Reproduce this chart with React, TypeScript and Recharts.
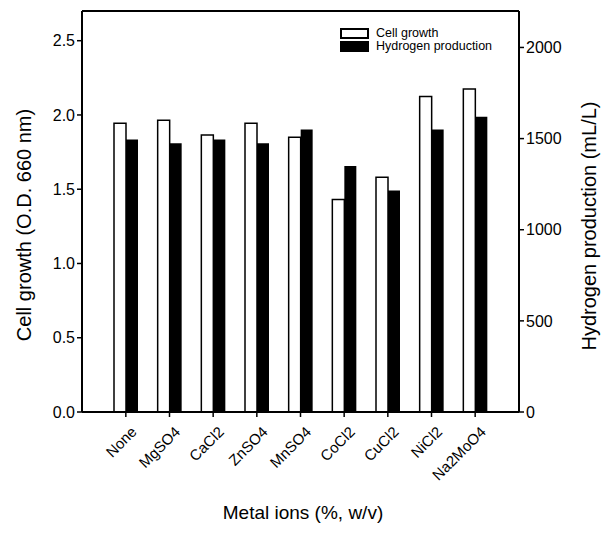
import {
  BarChart,
  Bar,
  XAxis,
  YAxis,
  ReferenceLine,
  Label,
} from 'recharts';

const metalIons = [
  'None',
  'MgSO4',
  'CaCl2',
  'ZnSO4',
  'MnSO4',
  'CoCl2',
  'CuCl2',
  'NiCl2',
  'Na2MoO4',
];
const cellGrowth = [1.945, 1.965, 1.865, 1.945, 1.85, 1.43, 1.58, 2.125, 2.175];
const hydrogenProduction = [1495, 1475, 1495, 1475, 1550, 1350, 1215, 1550, 1620];
const leftTicks = [0, 0.5, 1.0, 1.5, 2.0, 2.5];
const rightTicks = [0, 500, 1000, 1500, 2000];

const data = metalIons.map((name, i) => ({
  name,
  cell: cellGrowth[i],
  hydrogen: hydrogenProduction[i],
}));

const FONT = '"Liberation Sans", Arial, sans-serif';

const RotatedTick = ({ x, y, payload }: any) => (
  <g transform={`translate(${x + 4},${y + 6})`}>
    <text
      x={0}
      y={0}
      dy={11}
      textAnchor="end"
      transform="rotate(-45)"
      fill="#000"
      fontSize={15}
      fontFamily={FONT}
    >
      {payload.value}
    </text>
  </g>
);

const LegendBox = () => (
  <div
    style={{
      position: 'absolute',
      top: 19,
      left: 332,
      fontFamily: FONT,
      fontSize: 12.5,
      color: '#000',
      lineHeight: '13px',
    }}
  >
    <div style={{ display: 'flex', alignItems: 'center' }}>
      <span
        style={{
          display: 'inline-block',
          width: 25,
          height: 7,
          border: '2px solid #000',
          background: '#fff',
          marginRight: 7,
        }}
      />
      Cell growth
    </div>
    <div style={{ display: 'flex', alignItems: 'center' }}>
      <span
        style={{
          display: 'inline-block',
          width: 29,
          height: 11,
          background: '#000',
          marginRight: 7,
        }}
      />
      Hydrogen production
    </div>
  </div>
);

export default function App() {
  return (
    <div style={{ position: 'relative', width: 594, height: 522 }}>
      <BarChart
        width={594}
        height={522}
        data={data}
        margin={{ top: 3, right: 23, left: 14, bottom: 18 }}
        barSize={12}
        barGap={0}
        style={{ fontFamily: FONT }}
      >
        <XAxis
          dataKey="name"
          height={100}
          padding={{ left: 22, right: 22 }}
          axisLine={{ stroke: '#000', strokeWidth: 2 }}
          tickLine={{ stroke: '#000', strokeWidth: 1.5 }}
          tickSize={5}
          interval={0}
          tick={<RotatedTick />}
        >
          <Label
            content={() => (
              <text x={295} y={511} textAnchor="middle" fontSize={19} fill="#000" fontFamily={FONT}>
                Metal ions (%, w/v)
              </text>
            )}
          />
        </XAxis>
        <YAxis
          yAxisId="left"
          width={60}
          domain={[0, 2.7]}
          ticks={leftTicks}
          tickFormatter={(v: number) => v.toFixed(1)}
          axisLine={{ stroke: '#000', strokeWidth: 2 }}
          tickLine={{ stroke: '#000', strokeWidth: 1.5 }}
          tickSize={5}
          tick={{ fill: '#000', fontSize: 16, fontFamily: FONT }}
        >
          <Label
            content={() => (
              <text
                x={23}
                y={217}
                textAnchor="middle"
                transform="rotate(-90, 23, 217)"
                fontSize={20}
                fill="#000"
                fontFamily={FONT}
              >
                Cell growth (O.D. 660 nm)
              </text>
            )}
          />
        </YAxis>
        <YAxis
          yAxisId="right"
          orientation="right"
          width={60}
          domain={[0, 2200]}
          ticks={rightTicks}
          axisLine={{ stroke: '#000', strokeWidth: 2 }}
          tickLine={{ stroke: '#000', strokeWidth: 1.5 }}
          tickSize={5}
          tick={{ fill: '#000', fontSize: 16, fontFamily: FONT }}
        >
          <Label
            content={() => (
              <text
                x={581}
                y={218}
                textAnchor="middle"
                dominantBaseline="central"
                transform="rotate(-90, 581, 218)"
                fontSize={20}
                fill="#000"
                fontFamily={FONT}
              >
                Hydrogen production (mL/L)
              </text>
            )}
          />
        </YAxis>
        <ReferenceLine yAxisId="left" y={2.7} stroke="#000" strokeWidth={2} />
        <Bar
          yAxisId="left"
          dataKey="cell"
          name="Cell growth"
          fill="#fff"
          stroke="#000"
          strokeWidth={1.5}
          isAnimationActive={false}
        />
        <Bar
          yAxisId="right"
          dataKey="hydrogen"
          name="Hydrogen production"
          fill="#000"
          isAnimationActive={false}
        />
      </BarChart>
      <LegendBox />
    </div>
  );
}
